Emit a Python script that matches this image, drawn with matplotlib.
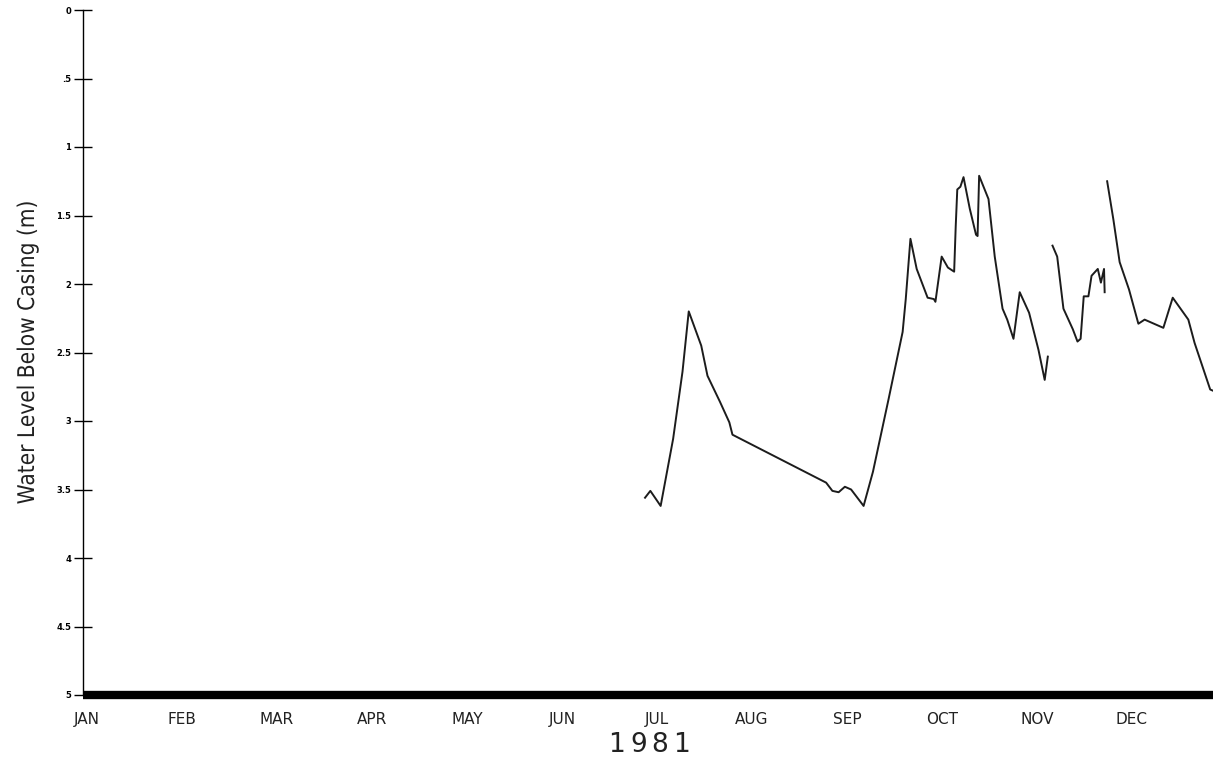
import numpy as np
import matplotlib
matplotlib.use("Agg")
import matplotlib.pyplot as plt
from matplotlib.textpath import TextPath
from matplotlib.patches import PathPatch
from matplotlib.transforms import Affine2D, IdentityTransform
from matplotlib.font_manager import FontProperties

# day of year (0 = Jan 1) and depth to water below casing, metres
days = [178.7, 180.4, 183.7, 187.7, 190.7, 192.7, 196.7, 198.7, 202.7, 205.7, 206.7,
        236.7, 238.7, 240.7, 242.7, 244.7, 248.7, 251.7, 256.7, 261.2, 262.2, 263.7,
        265.7, 269.2, 271.2, 271.7, 273.7, 275.7, 277.7, 278.2, 278.7, 279.7, 280.7,
        282.7, 284.7, 285.2, 285.7, 288.7, 290.7, 293.2, 294.7, 296.7, 298.7, 301.7,
        304.7, 306.7, 307.7,
        np.nan,
        309.2, 310.7, 312.7, 315.7, 317.2, 318.2, 319.2, 320.7, 321.7, 323.7, 324.7,
        325.7, 325.9,
        np.nan,
        326.7, 328.7, 330.7, 333.7, 336.7, 338.7, 344.7, 347.7, 352.7, 354.7, 359.7,
        360.7]
level = [3.56, 3.51, 3.62, 3.13, 2.64, 2.20, 2.45, 2.67, 2.86, 3.01, 3.10,
         3.45, 3.51, 3.52, 3.48, 3.50, 3.62, 3.37, 2.84, 2.35, 2.11, 1.67,
         1.89, 2.10, 2.11, 2.13, 1.80, 1.88, 1.91, 1.58, 1.31, 1.29, 1.22,
         1.45, 1.64, 1.65, 1.21, 1.38, 1.80, 2.18, 2.26, 2.40, 2.06, 2.21,
         2.48, 2.70, 2.53,
         np.nan,
         1.72, 1.80, 2.18, 2.33, 2.42, 2.40, 2.09, 2.09, 1.94, 1.89, 1.99,
         1.89, 2.06,
         np.nan,
         1.25, 1.53, 1.84, 2.04, 2.29, 2.26, 2.32, 2.10, 2.26, 2.43, 2.77,
         2.78]

month_names = ["JAN", "FEB", "MAR", "APR", "MAY", "JUN",
               "JUL", "AUG", "SEP", "OCT", "NOV", "DEC"]
depth_ticks = [0, 0.5, 1, 1.5, 2, 2.5, 3, 3.5, 4, 4.5, 5]
depth_labels = ["0", ".5", "1", "1.5", "2", "2.5", "3", "3.5", "4", "4.5", "5"]
year = "1981"

W, H = 1213, 761
fig = plt.figure(figsize=(W / 100, H / 100), dpi=100)
ax = fig.add_axes([83 / W, 66 / H, (W - 83) / W, 685 / H])

ax.plot(days, level, color="#1c1c1c", lw=1.4, solid_joinstyle="round")

ax.set_xlim(-1.3, 360.6)
ax.set_ylim(5, 0)

for side in ("top", "right"):
    ax.spines[side].set_visible(False)
ax.spines["left"].set_linewidth(1.0)
ax.spines["bottom"].set_linewidth(6.0)
ax.spines["bottom"].set_capstyle("butt")

ax.set_yticks(depth_ticks)
ax.set_yticklabels(depth_labels, fontsize=6, fontweight="bold")
ax.tick_params(axis="y", direction="inout", length=13, width=1.0, pad=2)

# months as equal twelfths of the year
ax.set_xticks([i * 365 / 12 for i in range(12)])
ax.set_xticklabels(month_names, fontsize=11, color="#222222")
ax.tick_params(axis="x", length=0, pad=12)

# year under the axis, spaced out a little
for i, ch in enumerate(year):
    fig.text((649 + (i - 1.5) * 21.5) / W, 1 - 745 / H, ch, fontsize=19,
             ha="center", va="center", color="#222222")

# narrow y label built from a squeezed text path
label = "Water Level Below Casing (m)"
tp = TextPath((0, 0), label, size=23, prop=FontProperties(family="DejaVu Sans"))
ext = tp.get_extents()
tf = (Affine2D().translate(-(ext.x0 + ext.width / 2), 0).scale(0.88, 1)
      .rotate_deg(90).translate(34, H - 353))
fig.add_artist(PathPatch(tf.transform_path(tp), transform=IdentityTransform(),
                         facecolor="#222222", edgecolor="none"))

fig.savefig("out.png", dpi=100)
